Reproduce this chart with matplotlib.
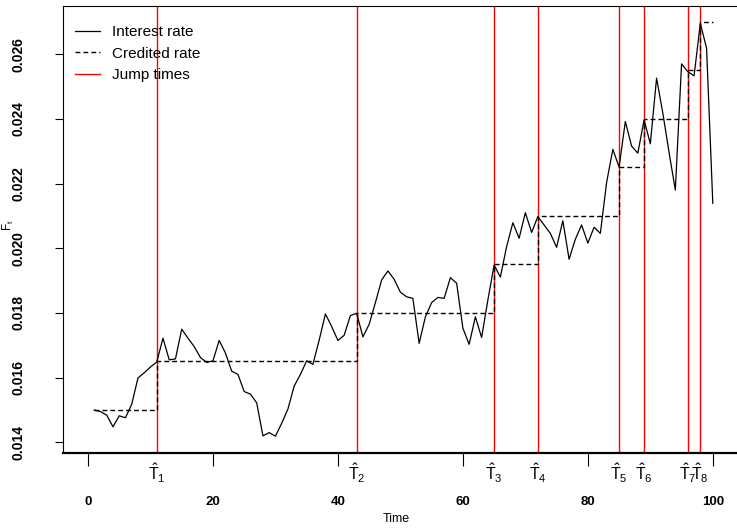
import matplotlib
matplotlib.use("Agg")
import matplotlib.pyplot as plt
import matplotlib.transforms as mtransforms
import numpy as np

# interest rate path, t = 1..100
time = np.arange(1, 101)
interest = [0.01500, 0.01495, 0.01484, 0.01448, 0.01482, 0.01476, 0.01518, 0.01599, 0.01615, 0.01633,
            0.01648, 0.01722, 0.01655, 0.01658, 0.01750, 0.01722, 0.01696, 0.01662, 0.01647, 0.01652,
            0.01715, 0.01676, 0.01620, 0.01610, 0.01557, 0.01549, 0.01522, 0.01420, 0.01430, 0.01419,
            0.01459, 0.01503, 0.01574, 0.01610, 0.01652, 0.01641, 0.01716, 0.01797, 0.01758, 0.01715,
            0.01731, 0.01792, 0.01799, 0.01726, 0.01765, 0.01832, 0.01902, 0.01930, 0.01904, 0.01864,
            0.01850, 0.01845, 0.01706, 0.01788, 0.01832, 0.01848, 0.01845, 0.01909, 0.01892, 0.01753,
            0.01703, 0.01788, 0.01724, 0.01840, 0.01948, 0.01911, 0.02005, 0.02079, 0.02031, 0.02110,
            0.02049, 0.02098, 0.02072, 0.02046, 0.02003, 0.02085, 0.01966, 0.02028, 0.02072, 0.02016,
            0.02065, 0.02046, 0.02203, 0.02306, 0.02251, 0.02392, 0.02316, 0.02294, 0.02397, 0.02323,
            0.02526, 0.02418, 0.02296, 0.02180, 0.02570, 0.02546, 0.02533, 0.02695, 0.02619, 0.02139]

# credited rate: level before first jump, then one level after each jump
jump_times = [11, 43, 65, 72, 85, 89, 96, 98]
credited_levels = [0.0150, 0.0165, 0.0180, 0.0195, 0.0210, 0.0225, 0.0240, 0.0255, 0.0270]

x_ticks = [0, 20, 40, 60, 80, 100]
y_ticks = [0.014, 0.016, 0.018, 0.020, 0.022, 0.024, 0.026]

credited = np.array([credited_levels[np.searchsorted(jump_times, t, side="right")] for t in time])

plt.rcParams["font.family"] = ["Liberation Sans", "DejaVu Sans"]
plt.rcParams["mathtext.fontset"] = "custom"
plt.rcParams["mathtext.rm"] = "Liberation Sans"
plt.rcParams["mathtext.it"] = "Liberation Sans"

fig = plt.figure(figsize=(7.37, 5.28), dpi=100)
ax = fig.add_axes([63/737, 75/528, 674.8/737, 447/528])

for jt in jump_times:
    ax.axvline(jt, color="red", lw=1.0, zorder=1)
ax.plot(time, interest, color="black", lw=0.9, zorder=3, label="Interest rate")
ax.step(time, credited, where="post", color="black", lw=1.0, dashes=(3.5, 2.2), zorder=2,
        label="Credited rate")
ax.plot([], [], color="red", lw=1.0, label="Jump times")

ax.set_xlim(-4, 104)
ax.set_ylim(0.01367, 0.02749)

ax.set_xticks(x_ticks)
ax.set_xticklabels([str(v) for v in x_ticks], fontweight="bold", fontsize=9.5)
ax.set_yticks(y_ticks)
ax.set_yticklabels(["%.3f" % v for v in y_ticks], fontweight="bold", fontsize=10,
                   rotation=90, va="center")
ax.tick_params(axis="x", length=9, width=0.8, pad=22)
ax.tick_params(axis="y", length=6, width=0.8, pad=21)

ax.spines["right"].set_visible(False)
ax.spines["bottom"].set_linewidth(1.6)
ax.spines["left"].set_linewidth(0.8)
ax.spines["top"].set_linewidth(0.8)

# hat T labels under the jump times
trans = mtransforms.blended_transform_factory(ax.transData, ax.transAxes)
for i, jt in enumerate(jump_times):
    ax.text(jt, -0.02, r"$\hat{T}_{%d}$" % (i + 1), transform=trans, ha="center", va="top",
            fontsize=11.5)

fig.text(396/737, 1 - 519/528, "Time", ha="center", va="center", fontsize=9)
fig.text(8/737, 1 - 225/528, r"$F_t$", ha="center", va="center", rotation=90, fontsize=8.5)

ax.legend(loc="upper left", bbox_to_anchor=(0.0, 0.985), frameon=False, fontsize=11,
          handlelength=1.65, handletextpad=0.75, labelspacing=0.5, borderaxespad=0.4)

fig.savefig("out.png", dpi=100)
